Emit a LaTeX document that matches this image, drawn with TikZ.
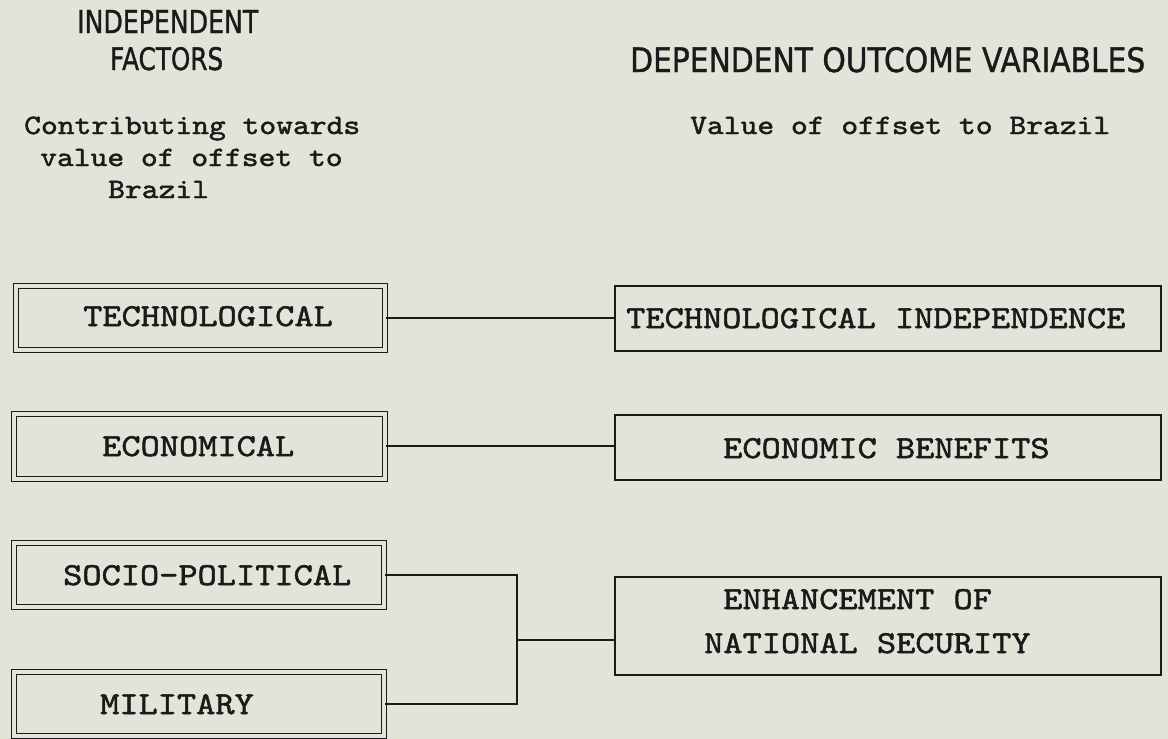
\documentclass[tikz,border=0pt]{standalone}
\usepackage{fontspec}
\newfontfamily\codefont{lmmono10-regular}[Extension=.otf, FakeStretch=1.143, FakeBold=1.6]
\newfontfamily\headfont{DejaVu Sans}[FakeBold=1.2]
\usepackage{graphicx}
\definecolor{paper}{HTML}{E3E4D9}
\definecolor{ink}{HTML}{1A1A1A}
\tikzset{
  dbox/.style={draw=ink, line width=1.6pt, double=paper, double distance=3.4pt, rectangle, inner sep=0pt, anchor=north west},
  sbox/.style={draw=ink, line width=2pt, rectangle, inner sep=0pt, anchor=north west},
  boxtext/.style={anchor=base west, inner sep=0pt, font=\codefont\fontsize{32}{38}\selectfont, text=ink},
  subtext/.style={anchor=base west, inner sep=0pt, font=\codefont\fontsize{28}{34}\selectfont, text=ink},
  headtext/.style={anchor=base west, inner sep=0pt, text=ink},
  wire/.style={draw=ink, line width=2pt}
}
\begin{document}
\begin{tikzpicture}[x=1pt,y=-1pt]
\fill[paper] (0,0) rectangle (1168,739);
\useasboundingbox (0,0) rectangle (1168,739);
% headings
\node[headtext] (h1) at (77,33) {\resizebox{181pt}{23pt}{\headfont INDEPENDENT}};
\node[headtext] (h2) at (110,70) {\resizebox{113pt}{23pt}{\headfont FACTORS}};
\node[headtext] (h3) at (630,72) {\resizebox{515pt}{25pt}{\headfont DEPENDENT OUTCOME VARIABLES}};
\node[subtext] (s1) at (24,134) {Contributing towards};
\node[subtext] (s2) at (40,166) {value of offset to};
\node[subtext] (s3) at (108,198) {Brazil};
\node[subtext] (s4) at (690,134) {Value of offset to Brazil};
% left boxes
\node[dbox, minimum width=369pt, minimum height=64pt] (tl) at (15,285) {};
\node[dbox, minimum width=371pt, minimum height=65pt] (el) at (13,413) {};
\node[dbox, minimum width=370pt, minimum height=64pt] (sl) at (13,542) {};
\node[dbox, minimum width=370pt, minimum height=64pt] (ml) at (13,671) {};
\node[boxtext] (tlt) at (83,326) {TECHNOLOGICAL};
\node[boxtext] (elt) at (102,456) {ECONOMICAL};
\node[boxtext] (slt) at (63,585) {SOCIO-POLITICAL};
\node[boxtext] (mlt) at (100,714) {MILITARY};
% right boxes
\node[sbox, minimum width=546pt, minimum height=65pt] (tr) at (614,285) {};
\node[sbox, minimum width=546pt, minimum height=65pt] (er) at (614,414) {};
\node[sbox, minimum width=546pt, minimum height=98pt] (nr) at (614,576) {};
\node[boxtext] (trt) at (626,328) {TECHNOLOGICAL INDEPENDENCE};
\node[boxtext] (ert) at (723,458) {ECONOMIC BENEFITS};
\node[boxtext] (nrt1) at (723,609) {ENHANCEMENT OF};
\node[boxtext] (nrt2) at (704,653) {NATIONAL SECURITY};
% connectors
\draw[wire] (tl.east) -- (tl.east -| tr.west);
\draw[wire] (el.east) -- (el.east -| er.west);
\coordinate (jn) at (517,640);
\draw[wire] (sl.east) -| (jn) |- (ml.east);
\draw[wire] (jn) -- (jn -| nr.west);
\end{tikzpicture}
\end{document}
